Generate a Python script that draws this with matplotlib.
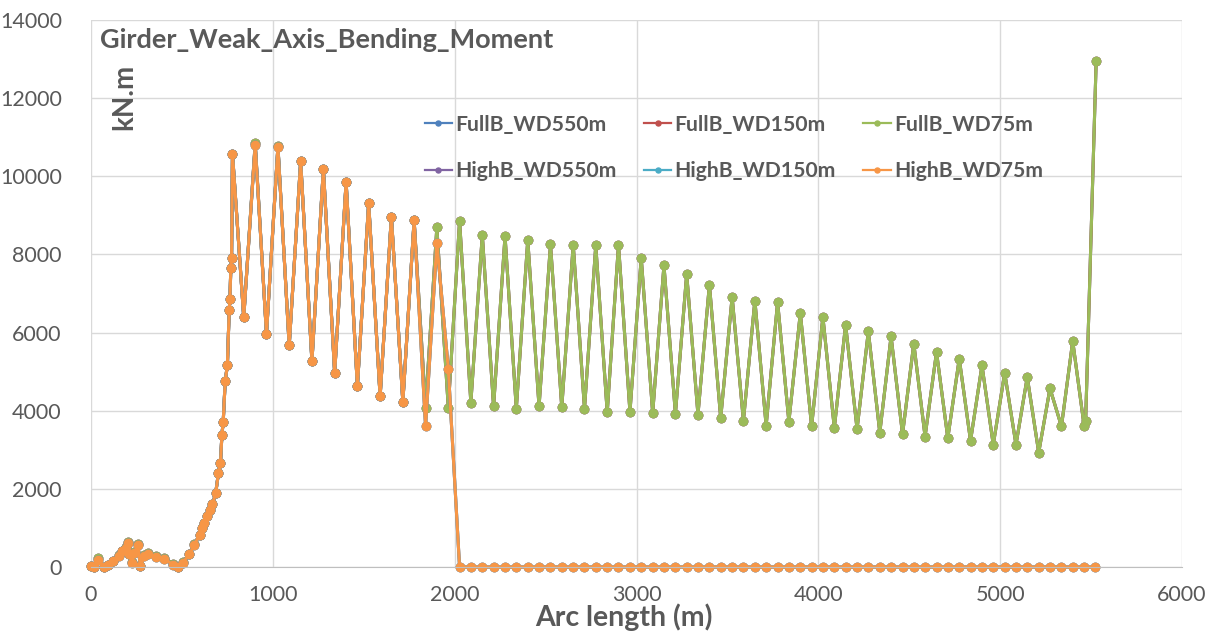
import matplotlib
matplotlib.use('Agg')
import matplotlib.pyplot as plt

plt.rcParams['font.family'] = ['Lato', 'DejaVu Sans']

# arc length (m) of the early part, dense mesh near touchdown
x_early = [0, 18, 37, 69, 92, 120, 153, 171, 190, 202, 211, 226, 239, 257, 272, 294, 312,
           358, 404, 449, 477, 504, 541, 569, 597, 613, 624, 640, 655, 668, 686, 701, 712,
           720, 727, 738, 750, 760, 764, 769, 773]
fullb_early = [20, 0, 230, 0, 50, 160, 300, 410, 500, 630, 330, 120, 380, 600, 30, 300, 350,
               290, 240, 80, 10, 120, 330, 580, 830, 1000, 1130, 1300, 1450, 1600, 1900, 2410, 2650,
               3390, 3710, 4760, 5160, 6570, 6850, 7660, 7910]
highb_early = [20, 0, 190, 0, 40, 150, 290, 400, 490, 620, 320, 110, 360, 575, 20, 280, 320,
               260, 210, 60, 5, 110, 320, 575, 830, 1000, 1130, 1300, 1450, 1600, 1900, 2410, 2650,
               3390, 3710, 4760, 5160, 6570, 6850, 7660, 7910]

# arc length (m) of the regular part (FullB runs to the end)
x_osc = [778, 840, 903, 965, 1028, 1090, 1153, 1215, 1278, 1340, 1403, 1465, 1527, 1590, 1652,
         1715, 1777, 1840, 1902, 1965, 2027, 2089, 2152, 2214, 2277, 2339, 2402, 2464, 2527, 2589,
         2652, 2714, 2776, 2839, 2901, 2964, 3026, 3089, 3151, 3214, 3276, 3338, 3401, 3463, 3526,
         3588, 3651, 3713, 3776, 3838, 3901, 3963, 4025, 4088, 4150, 4213, 4275, 4338, 4400, 4463,
         4525, 4587, 4650, 4712, 4775, 4837, 4900, 4962, 5025, 5087, 5149, 5212, 5274, 5337, 5399,
         5462, 5470, 5528]
fullb_osc = [10580, 6390, 10850, 5970, 10770, 5670, 10380, 5270, 10190, 4970, 9850, 4630, 9310,
             4370, 8960, 4230, 8870, 4080, 8690, 4080, 8860, 4210, 8500, 4110, 8470, 4050, 8370,
             4110, 8260, 4090, 8250, 4050, 8230, 3960, 8250, 3970, 7910, 3940, 7720, 3920, 7500,
             3900, 7230, 3810, 6910, 3740, 6820, 3620, 6780, 3720, 6500, 3600, 6400, 3560, 6200,
             3530, 6030, 3440, 5900, 3400, 5720, 3340, 5500, 3300, 5330, 3230, 5160, 3130, 4970,
             3130, 4860, 2930, 4570, 3600, 5780, 3600, 3730, 12960]

# HighB stops at 2027 m and is zero afterwards
x_high = [778, 840, 903, 965, 1028, 1090, 1153, 1215, 1278, 1340, 1403, 1465, 1527, 1590, 1652,
          1715, 1777, 1840, 1902, 1965, 2027, 2089, 2152, 2214, 2277, 2339, 2402, 2464, 2527, 2589,
          2652, 2714, 2776, 2839, 2901, 2964, 3026, 3089, 3151, 3214, 3276, 3338, 3401, 3463, 3526,
          3588, 3651, 3713, 3776, 3838, 3901, 3963, 4025, 4088, 4150, 4213, 4275, 4338, 4400, 4463,
          4525, 4587, 4650, 4712, 4775, 4837, 4900, 4962, 5025, 5087, 5149, 5212, 5274, 5337, 5399,
          5462, 5524]
highb_osc = [10580, 6390, 10800, 5970, 10750, 5670, 10380, 5270, 10190, 4970, 9850, 4630, 9310,
             4370, 8960, 4230, 8870, 3610, 8290, 5070, 0, 0, 0, 0, 0, 0, 0, 0, 0, 0,
             0, 0, 0, 0, 0, 0, 0, 0, 0, 0, 0, 0, 0, 0, 0,
             0, 0, 0, 0, 0, 0, 0, 0, 0, 0, 0, 0, 0, 0, 0,
             0, 0, 0, 0, 0, 0, 0, 0, 0, 0, 0, 0, 0, 0, 0,
             0, 0]

names = ['FullB_WD550m', 'FullB_WD150m', 'FullB_WD75m',
         'HighB_WD550m', 'HighB_WD150m', 'HighB_WD75m']
colors = ['#4F81BD', '#C0504D', '#9BBB59', '#8064A2', '#4BACC6', '#F79646']

fig = plt.figure(figsize=(12.18, 6.32), dpi=100)
ax = fig.add_axes([91 / 1218, 65 / 632, 1091 / 1218, 547 / 632])

lines = []
for i, name in enumerate(names):
    if i < 3:
        xs, ys = x_early + x_osc, fullb_early + fullb_osc
    else:
        xs, ys = x_early + x_high, highb_early + highb_osc
    l, = ax.plot(xs, ys, color=colors[i], lw=2.2, marker='o', ms=6, label=name, clip_on=False)
    lines.append(l)

ax.set_xlim(0, 6000)
ax.set_ylim(0, 14000)
ax.set_xticks(range(0, 6001, 1000))
ax.set_yticks(range(0, 14001, 2000))
ax.grid(True, color='#D9D9D9', lw=1)
ax.set_axisbelow(True)
for s in ['top', 'right', 'left']:
    ax.spines[s].set_visible(False)
ax.spines['bottom'].set_color('#BFBFBF')
ax.tick_params(length=0, labelsize=15.5, labelcolor='#595959')
ax.tick_params(axis='y', pad=21)
ax.tick_params(axis='x', pad=13)

fig.text(100 / 1218, 1 - 40 / 632, 'Girder_Weak_Axis_Bending_Moment', fontsize=19.5,
         fontweight='bold', color='#595959', va='center', ha='left')
fig.text(124 / 1218, 1 - 97 / 632, 'kN.m', fontsize=20, fontweight='bold', color='#595959',
         rotation=90, va='center', ha='center')
fig.text(624 / 1218, 1 - 617 / 632, 'Arc length (m)', fontsize=20.5, fontweight='bold',
         color='#595959', va='center', ha='center')

order = [0, 3, 1, 4, 2, 5]
leg = ax.legend([lines[i] for i in order], [names[i] for i in order], ncol=3,
                loc='upper left', bbox_to_anchor=(414 / 1218, 1 - 104 / 632),
                bbox_transform=fig.transFigure, frameon=False,
                prop={'weight': 'bold', 'size': 15.2}, handlelength=1.3, handletextpad=0.15,
                columnspacing=1.3, labelspacing=1.25, markerscale=0.6, borderpad=0)
for t in leg.get_texts():
    t.set_color('#595959')
for h in leg.legend_handles:
    h.set_linewidth(1.6)

fig.savefig('out.png', dpi=100)
